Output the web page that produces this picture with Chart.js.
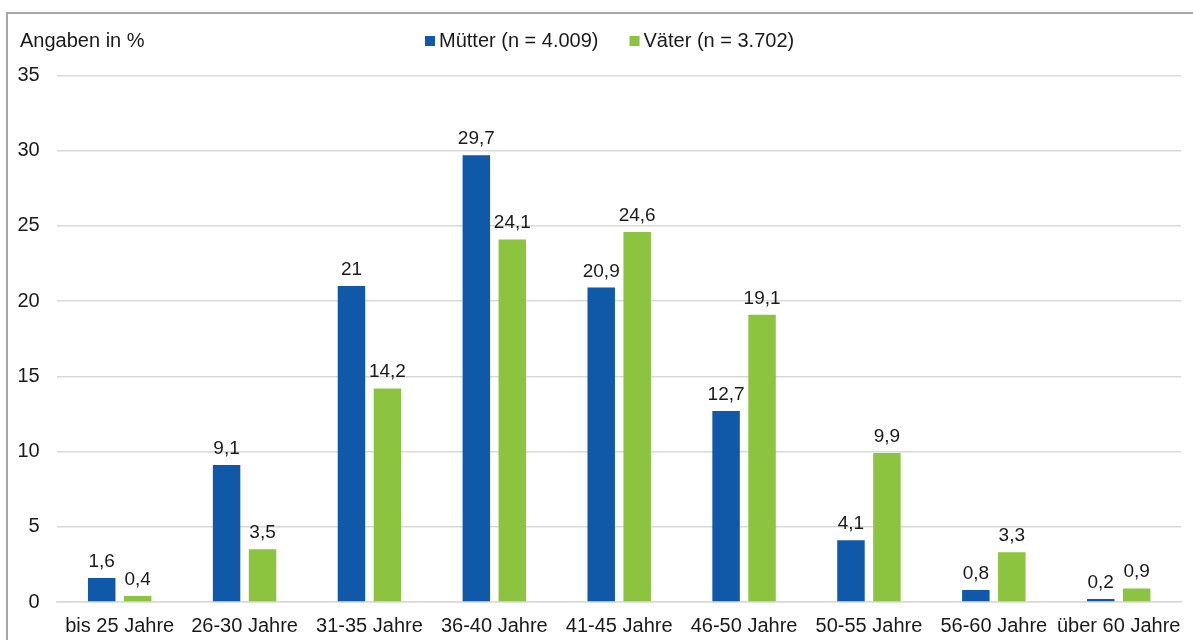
<!DOCTYPE html>
<html>
<head>
<meta charset="utf-8">
<script src="https://cdn.jsdelivr.net/npm/chart.js@4.4.1/dist/chart.umd.min.js"></script>
<style>
  html, body { margin: 0; padding: 0; background: #fff; overflow: hidden; }
  #frame { position: absolute; left: 6px; top: 12px; width: 1300px; height: 800px;
           border-left: 2px solid #a6a6a6; border-top: 2px solid #a6a6a6; }
  #wrap { position: absolute; left: 0; top: 0; width: 1193px; height: 650px; }
</style>
</head>
<body>
<div id="frame"></div>
<div id="wrap"><canvas id="c"></canvas></div>
<script>
const categories = ['bis 25 Jahre', '26-30 Jahre', '31-35 Jahre', '36-40 Jahre', '41-45 Jahre',
                    '46-50 Jahre', '50-55 Jahre', '56-60 Jahre', 'über 60 Jahre'];
const muetter = [1.6, 9.1, 21, 29.7, 20.9, 12.7, 4.1, 0.8, 0.2];
const vaeter  = [0.4, 3.5, 14.2, 24.1, 24.6, 19.1, 9.9, 3.3, 0.9];
const seriesLabels = ['Mütter (n = 4.009)', 'Väter (n = 3.702)'];
const unitLabel = 'Angaben in %';
const yMin = 0, yMax = 35, yStep = 5;

const BLUE = '#0f59a8';
const GREEN = '#8cc33f';
const TEXT = '#1a1a1a';
const GRID = '#d9d9d9';
const FONT = '"Liberation Sans", Arial, sans-serif';

const dataLabelPlugin = {
  id: 'dataLabels',
  afterDatasetsDraw(chart) {
    const ctx = chart.ctx;
    ctx.save();
    ctx.font = '19px ' + FONT;
    ctx.fillStyle = TEXT;
    ctx.textAlign = 'center';
    ctx.textBaseline = 'alphabetic';
    chart.data.datasets.forEach((ds, i) => {
      const meta = chart.getDatasetMeta(i);
      meta.data.forEach((el, j) => {
        const v = ds.data[j];
        ctx.fillText(String(v).replace('.', ','), el.x, el.y - 11);
      });
    });
    ctx.restore();
  }
};

const headerPlugin = {
  id: 'header',
  afterDraw(chart) {
    const ctx = chart.ctx;
    ctx.save();
    ctx.font = '20px ' + FONT;
    ctx.fillStyle = TEXT;
    ctx.textBaseline = 'alphabetic';
    ctx.textAlign = 'left';
    ctx.fillText(unitLabel, 20, 47);
    let x = 425;
    chart.data.datasets.forEach((ds) => {
      ctx.fillStyle = ds.backgroundColor;
      ctx.fillRect(x, 36, 10, 10);
      ctx.fillStyle = TEXT;
      ctx.fillText(ds.label, x + 14, 47);
      x += 14 + ctx.measureText(ds.label).width + 31;
    });
    ctx.restore();
  }
};

new Chart(document.getElementById('c'), {
  type: 'bar',
  data: {
    labels: categories,
    datasets: [
      { label: seriesLabels[0], data: muetter, backgroundColor: BLUE },
      { label: seriesLabels[1], data: vaeter, backgroundColor: GREEN }
    ]
  },
  options: {
    responsive: true,
    maintainAspectRatio: false,
    animation: false,
    categoryPercentage: 0.576,
    barPercentage: 0.764,
    layout: { padding: { top: 75.5, right: 10.5, left: 0, bottom: 0 } },
    plugins: { legend: { display: false }, tooltip: { enabled: false } },
    scales: {
      x: {
        grid: { display: false, drawTicks: false },
        border: { display: true, color: GRID, width: 1.5 },
        ticks: { color: TEXT, font: { family: FONT, size: 20 }, padding: 12, maxRotation: 0, autoSkip: false }
      },
      y: {
        min: yMin, max: yMax,
        grid: { color: GRID, lineWidth: 1.5, drawTicks: false },
        border: { display: false },
        ticks: { stepSize: yStep, color: TEXT, font: { family: FONT, size: 20 }, padding: 17.5 }
      }
    }
  },
  plugins: [dataLabelPlugin, headerPlugin]
});
</script>
</body>
</html>
